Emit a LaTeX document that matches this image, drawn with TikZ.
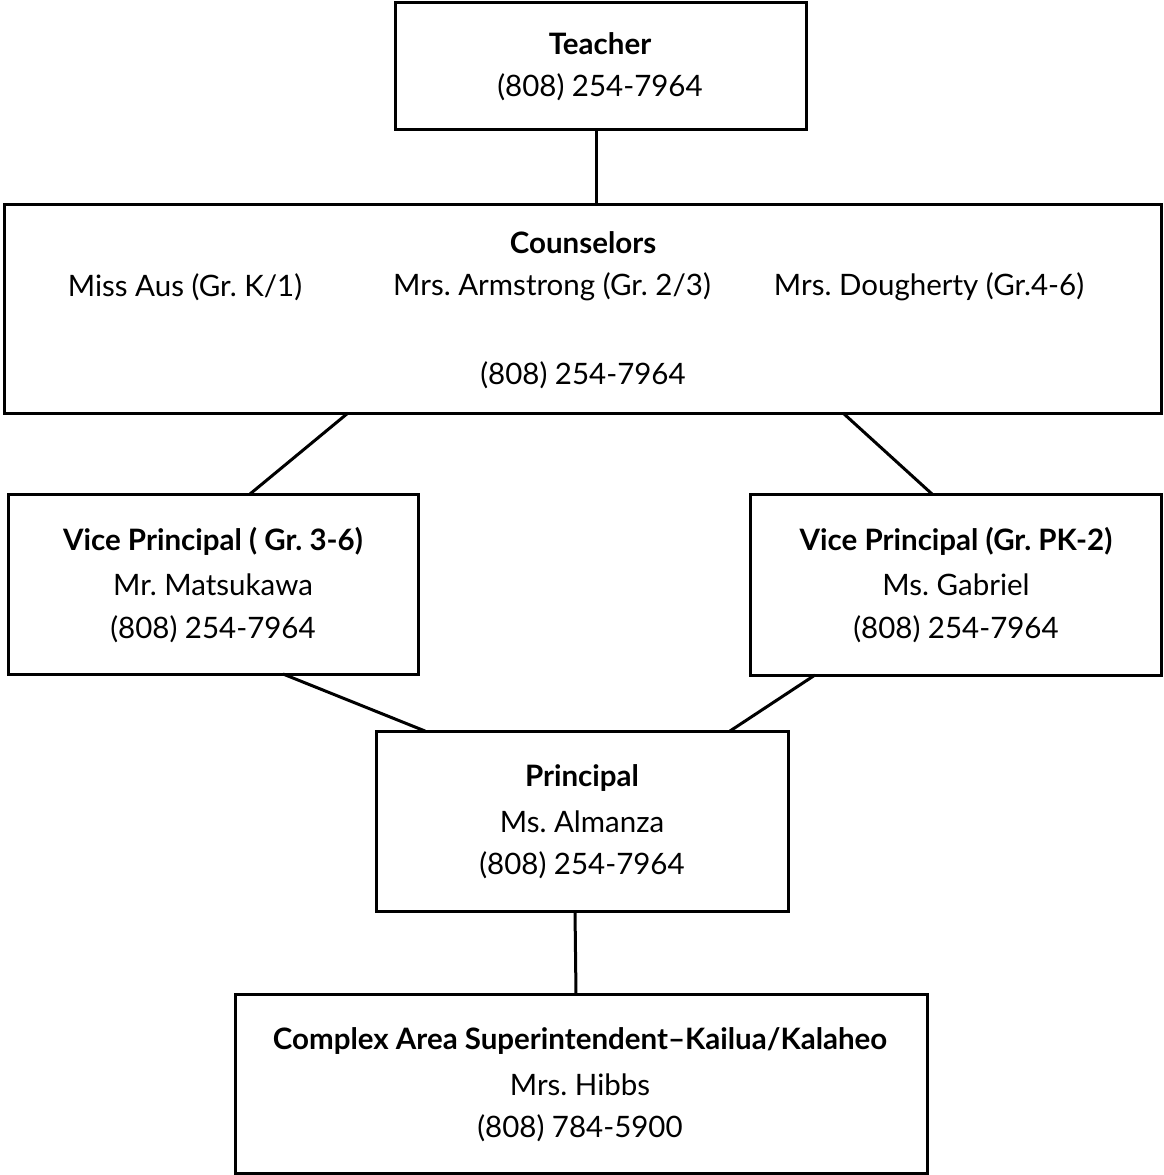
\documentclass[tikz,border=0pt]{standalone}
\usepackage{fontspec}
\setmainfont{Lato}
\frenchspacing
\begin{document}
\begin{tikzpicture}[x=1pt,y=-1pt,
  boxst/.style={draw=black,line width=3pt},
  conn/.style={draw=black,line width=3pt},
  txt/.style={font=\fontsize{29.5}{34}\selectfont,inner sep=0pt,anchor=center},
  ttl/.style={font=\fontsize{29.5}{34}\selectfont\bfseries,inner sep=0pt,anchor=center}]
\useasboundingbox (0,0) rectangle (1163,1175);
% boxes
\draw[boxst] (395,2) rectangle (806,129);
\coordinate (tB) at (596,129);
\draw[boxst] (4,204) rectangle (1161,413);
\coordinate (cT) at (596,204);
\coordinate (cBL) at (348,413);
\coordinate (cBR) at (843,413);
\draw[boxst] (8,494) rectangle (418,674);
\coordinate (vlT) at (250,494);
\coordinate (vlB) at (283,674);
\draw[boxst] (750,494) rectangle (1161,675);
\coordinate (vrT) at (932,494);
\coordinate (vrB) at (815,675);
\draw[boxst] (376,731) rectangle (788,911);
\coordinate (pTL) at (425,731);
\coordinate (pTR) at (730,731);
\coordinate (pB) at (575,911);
\draw[boxst] (235,994) rectangle (927,1173);
\coordinate (sT) at (576,994);
% connectors
\draw[conn] (tB) -- (cT);
\draw[conn] (cBL) -- (vlT);
\draw[conn] (cBR) -- (vrT);
\draw[conn] (vlB) -- (pTL);
\draw[conn] (vrB) -- (pTR);
\draw[conn] (pB) -- (sT);
% texts
\node[ttl] (t1) at (600,44) {Teacher};
\node[txt] (t2) at (600,87) {(808) 254-7964};
\node[ttl] (c1) at (583,243) {Counselors};
\node[txt] (c2) at (185,287) {Miss Aus (Gr. K/1)};
\node[txt] (c3) at (552,287) {Mrs. Armstrong (Gr. 2/3)};
\node[txt] (c4) at (929,287) {Mrs. Dougherty (Gr.4-6)};
\node[txt] (c5) at (583,375) {(808) 254-7964};
\node[ttl] (l1) at (213,541) {Vice Principal ( Gr. 3-6)};
\node[txt] (l2) at (213,585) {Mr. Matsukawa};
\node[txt] (l3) at (213,629) {(808) 254-7964};
\node[ttl] (r1) at (956,541) {Vice Principal (Gr. PK-2)};
\node[txt] (r2) at (956,585) {Ms. Gabriel};
\node[txt] (r3) at (956,629) {(808) 254-7964};
\node[ttl] (p1) at (582,778) {Principal};
\node[txt] (p2) at (582,822) {Ms. Almanza};
\node[txt] (p3) at (582,865) {(808) 254-7964};
\node[ttl] (s1) at (580,1041) {Complex Area Superintendent–Kailua/Kalaheo};
\node[txt] (s2) at (580,1085) {Mrs. Hibbs};
\node[txt] (s3) at (580,1128) {(808) 784-5900};
\end{tikzpicture}
\end{document}
